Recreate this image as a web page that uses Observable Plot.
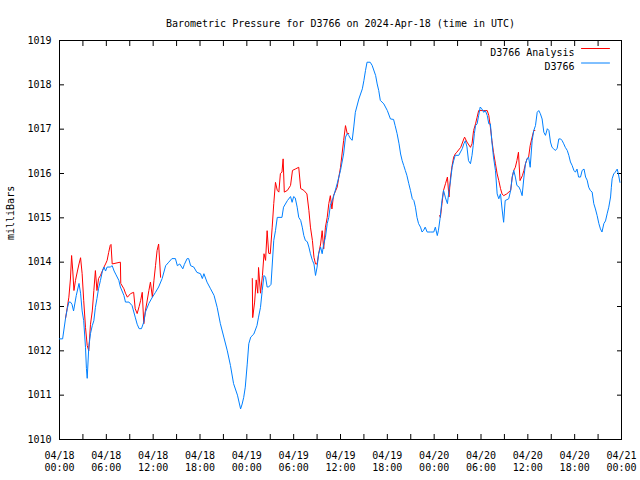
<!DOCTYPE html>
<html><head><meta charset="utf-8">
<script src="https://cdn.jsdelivr.net/npm/d3@7"></script>
<script src="https://cdn.jsdelivr.net/npm/@observablehq/plot@0.6"></script>
<style>body{margin:0;background:#fff} svg{display:block}</style>
</head><body><div id="chart"></div>
<script>
const title = "Barometric Pressure for D3766 on 2024-Apr-18 (time in UTC)";
const yLabel = "milliBars";
const seriesNames = ["D3766 Analysis", "D3766"];
const seriesColors = ["#ff0000", "#0080ff"];
const startTime = Date.UTC(2024, 3, 18, 0, 0);
const endTime = Date.UTC(2024, 3, 21, 0, 0);
const yTicks = [1010, 1011, 1012, 1013, 1014, 1015, 1016, 1017, 1018, 1019];

// Observed station pressure (hours after 2024-04-18 00:00 UTC)
const obsHours = [0.0,0.4,0.77,1.0,1.2,1.4,1.6,1.8,2.15,2.5,2.7,2.9,3.1,3.33,3.45,3.55,3.75,3.97,4.2,4.4,4.6,4.8,5.0,5.25,5.5,5.7,5.9,6.1,6.5,6.75,7.0,7.2,7.6,7.8,8.25,8.45,8.9,9.3,9.7,9.95,10.2,10.5,10.8,11.0,11.45,11.9,12.3,12.7,13.15,13.6,14.0,14.4,14.85,15.1,15.4,15.8,16.0,16.35,16.55,16.8,17.2,17.6,18.06,18.3,18.5,18.9,19.35,19.8,20.2,20.6,21.05,21.5,21.9,22.3,22.8,23.2,23.4,23.6,23.8,24.05,24.25,24.5,24.9,25.3,25.5,25.75,25.97,26.2,26.4,26.6,26.8,27.1,27.45,27.67,27.9,28.5,28.7,29.2,29.6,29.8,30.0,30.2,30.45,30.65,30.9,31.1,31.3,31.5,31.75,31.95,32.15,32.4,32.6,32.8,33.0,33.2,33.45,33.65,33.85,34.07,34.3,34.5,34.7,35.1,35.57,36.0,36.4,36.64,36.86,37.05,37.3,37.5,37.7,37.9,38.35,38.8,39.0,39.2,39.4,39.8,40.05,40.5,40.7,40.9,41.1,41.55,42.0,42.4,42.8,43.0,43.25,43.5,43.7,43.9,44.1,44.3,44.5,44.75,44.96,45.2,45.4,45.6,45.8,46.0,46.25,46.45,46.65,46.85,47.1,47.5,47.95,48.15,48.4,48.55,48.75,49.0,49.2,49.45,49.7,49.9,50.1,50.3,50.5,50.7,51.15,51.6,51.8,52.0,52.2,52.4,52.65,52.85,53.0,53.15,53.3,53.5,53.7,53.9,54.1,54.35,54.55,54.8,55.0,55.2,55.4,55.6,55.85,56.07,56.28,56.5,56.7,56.9,57.1,57.55,57.8,58.0,58.2,58.4,58.6,58.85,59.06,59.27,59.5,59.7,59.9,60.1,60.3,60.55,60.76,60.98,61.2,61.4,61.6,61.83,62.05,62.26,62.5,62.7,62.9,63.1,63.3,63.5,63.75,63.97,64.2,64.4,64.6,64.8,65.05,65.25,65.46,65.68,65.9,66.1,66.3,66.5,66.75,66.96,67.2,67.4,67.6,67.8,68.0,68.24,68.45,68.66,68.88,69.1,69.3,69.5,69.74,69.95,70.16,70.37,70.6,70.7,70.8,71.0,71.2,71.45,71.6,71.8];
const obsValues = [1012.27,1012.27,1012.73,1012.95,1013.10,1013.10,1013.05,1012.90,1013.25,1013.52,1013.30,1012.90,1012.68,1012.08,1011.60,1011.38,1012.08,1012.39,1012.57,1012.68,1012.98,1013.18,1013.40,1013.59,1013.80,1013.89,1013.80,1013.89,1013.89,1013.92,1013.80,1013.73,1013.59,1013.44,1013.25,1013.10,1013.10,1013.02,1012.76,1012.60,1012.50,1012.50,1012.65,1012.87,1013.07,1013.21,1013.32,1013.44,1013.63,1013.92,1014.00,1014.08,1014.08,1013.92,1013.96,1013.85,1013.95,1014.08,1014.08,1013.92,1013.89,1013.77,1013.74,1013.63,1013.74,1013.55,1013.40,1013.25,1012.98,1012.62,1012.31,1012.00,1011.67,1011.26,1011.00,1010.69,1010.80,1010.95,1011.18,1011.70,1012.16,1012.31,1012.38,1012.57,1012.76,1012.98,1013.36,1013.70,1013.66,1013.44,1013.44,1013.50,1014.49,1014.71,1015.01,1015.01,1015.24,1015.39,1015.48,1015.35,1015.48,1015.45,1015.24,1015.01,1014.94,1014.79,1014.60,1014.49,1014.46,1014.34,1014.19,1014.04,1013.96,1013.70,1013.89,1014.19,1014.34,1014.19,1014.41,1014.56,1014.87,1015.01,1015.28,1015.47,1015.77,1016.07,1016.44,1016.82,1016.90,1016.86,1016.78,1016.75,1017.05,1017.38,1017.68,1017.91,1018.10,1018.32,1018.51,1018.51,1018.44,1018.21,1018.02,1017.87,1017.65,1017.57,1017.42,1017.23,1017.22,1017.08,1016.90,1016.67,1016.44,1016.29,1016.18,1016.07,1015.96,1015.77,1015.62,1015.43,1015.39,1015.24,1015.01,1014.87,1014.79,1014.68,1014.72,1014.79,1014.68,1014.68,1014.68,1014.79,1014.60,1014.72,1014.98,1015.39,1015.62,1015.45,1015.32,1015.62,1015.84,1016.14,1016.29,1016.41,1016.41,1016.56,1016.67,1016.74,1016.60,1016.29,1016.22,1016.41,1016.63,1016.90,1017.08,1017.12,1017.31,1017.50,1017.46,1017.38,1017.42,1017.31,1017.12,1017.12,1016.71,1016.37,1016.07,1015.54,1015.43,1015.54,1015.20,1014.90,1015.39,1015.43,1015.62,1015.92,1016.07,1015.92,1015.73,1015.70,1015.62,1015.50,1015.92,1016.22,1016.33,1016.37,1016.14,1016.74,1016.97,1017.08,1017.38,1017.42,1017.35,1017.23,1016.93,1016.86,1017.01,1016.97,1016.71,1016.59,1016.56,1016.52,1016.56,1016.78,1016.78,1016.74,1016.67,1016.59,1016.52,1016.41,1016.26,1016.18,1016.07,1016.03,1016.10,1015.92,1015.92,1016.07,1016.10,1015.92,1015.85,1015.69,1015.62,1015.58,1015.32,1015.20,1015.05,1014.87,1014.75,1014.68,1014.87,1014.93,1015.09,1015.24,1015.47,1015.69,1015.88,1015.99,1016.03,1016.10,1015.99,1015.80];

// Analysis pressure (null = gap between analysis periods)
const anaHours = [0.77,1.0,1.2,1.4,1.55,1.7,1.85,2.05,2.3,2.5,2.7,2.9,3.1,3.33,3.55,3.75,3.97,4.2,4.4,4.6,4.8,5.0,5.25,5.7,5.9,6.1,6.3,6.5,6.6,6.75,7.8,7.85,8.25,8.45,8.7,9.1,9.5,9.7,9.95,10.2,10.4,10.6,10.8,11.0,11.2,11.45,11.65,11.9,12.1,12.3,12.5,12.7,12.95,
  18,
  24.7,24.75,25.0,25.2,25.4,25.5,25.75,26.0,26.2,26.4,26.6,26.8,27.0,27.25,27.45,27.67,27.9,28.1,28.3,28.5,28.65,28.8,29.2,29.6,29.85,30.2,30.65,30.9,31.3,31.7,31.95,32.15,32.4,32.6,32.8,33.0,33.2,33.45,33.65,33.85,34.07,34.3,34.5,34.7,34.9,35.1,35.57,36.0,36.2,36.4,36.64,36.86,37.05,
  43,
  48.7,48.8,49.0,49.2,49.45,49.7,49.9,50.1,50.3,50.5,50.7,50.9,51.4,51.8,51.9,52.2,52.65,52.85,53.05,53.3,53.5,53.7,54.35,54.8,55.0,55.2,55.4,55.6,55.85,56.07,56.28,56.5,56.7,56.9,57.3,57.8,58.0,58.2,58.4,58.6,58.8,59.0,59.3,59.5,59.7,59.9,60.1,60.3,60.55,60.76,60.9];
const anaValues = [1012.73,1012.98,1013.21,1013.62,1014.15,1013.80,1013.36,1013.59,1013.80,1013.96,1014.10,1013.74,1013.14,1012.53,1012.12,1012.00,1012.60,1012.90,1013.36,1013.81,1013.36,1013.63,1013.70,1013.89,1013.96,1014.04,1014.22,1014.38,1014.40,1013.96,1014.00,1013.52,1013.40,1013.30,1013.21,1013.29,1013.32,1012.95,1012.84,1013.00,1013.14,1013.32,1012.61,1012.90,1013.10,1013.36,1013.55,1013.21,1013.59,1013.92,1014.26,1014.41,1013.66,
  null,
  1013.63,1012.75,1013.10,1013.60,1013.30,1013.88,1013.30,1013.70,1014.19,1014.04,1014.71,1014.20,1014.19,1014.79,1015.32,1015.80,1015.62,1015.58,1016.00,1016.03,1016.33,1015.58,1015.62,1015.73,1016.07,1016.10,1016.14,1015.66,1015.62,1015.54,1015.17,1014.79,1014.49,1014.11,1013.96,1013.96,1014.19,1014.41,1014.71,1014.30,1014.79,1015.01,1015.32,1015.50,1015.20,1015.50,1015.69,1016.14,1016.44,1016.74,1017.08,1016.90,1016.90,
  null,
  1015.05,1015.01,1015.32,1015.62,1015.77,1015.92,1015.47,1015.92,1016.18,1016.37,1016.44,1016.48,1016.59,1016.78,1016.82,1016.71,1016.59,1016.67,1016.97,1017.12,1017.27,1017.42,1017.42,1017.42,1017.31,1017.05,1016.74,1016.48,1016.22,1015.99,1015.84,1015.66,1015.54,1015.50,1015.54,1015.62,1015.92,1016.07,1016.14,1016.29,1016.48,1015.84,1015.95,1016.07,1016.22,1016.33,1016.37,1016.63,1016.82,1016.97,1016.97];

const toDate = h => new Date(startTime + h * 3600e3);
const obs = obsHours.map((h, i) => ({t: toDate(h), p: obsValues[i]}));
const ana = anaHours.map((h, i) => ({t: toDate(h), p: anaValues[i] == null ? NaN : anaValues[i]}));

const ticks3h = d3.utcHour.every(3).range(new Date(startTime), new Date(endTime + 1));
const ticks6h = d3.utcHour.every(6).range(new Date(startTime), new Date(endTime + 1));

const lineShape = {draw(ctx, l) { ctx.moveTo(0, 0); ctx.lineTo(0, -l); }};
const font = "DejaVu Sans Mono";
const legend = seriesNames.map((name, i) => ({name, color: seriesColors[i], row: i}));

const chart = Plot.plot({
  width: 640, height: 480,
  marginTop: 40, marginRight: 19, marginBottom: 41, marginLeft: 59,
  style: {fontFamily: font, fontSize: "10px", background: "#fff", color: "#000"},
  x: {type: "utc", domain: [new Date(startTime), new Date(endTime)]},
  y: {domain: [1010, 1019]},
  marks: [
    Plot.frame({stroke: "#000"}),
    Plot.axisX({ticks: ticks3h, anchor: "bottom", tickSize: -5, fill: "none", label: null}),
    Plot.axisX({ticks: ticks3h, anchor: "top", tickSize: -5, fill: "none", label: null}),
    Plot.axisX({ticks: ticks6h, anchor: "bottom", tickSize: 0, tickPadding: 11, lineHeight: 1.2,
      tickFormat: d3.utcFormat("%m/%d\n%H:%M"), label: null}),
    Plot.axisY({ticks: yTicks, anchor: "left", tickSize: -5, fill: "none", label: null}),
    Plot.axisY({ticks: yTicks, anchor: "right", tickSize: -5, fill: "none", label: null}),
    Plot.axisY({ticks: yTicks, anchor: "left", tickSize: 0, tickPadding: 8, tickFormat: d => String(d), label: null}),
    Plot.line(ana, {x: "t", y: "p", stroke: seriesColors[0], strokeWidth: 1}),
    Plot.line(obs, {x: "t", y: "p", stroke: seriesColors[1], strokeWidth: 1}),
    Plot.text([title], {text: d => d, frameAnchor: "top", dy: -21, fontSize: 10}),
    Plot.text([yLabel], {text: d => d, frameAnchor: "left", dx: -49, rotate: -90, fontSize: 10}),
    // legend (top-right, inside the frame)
    ...legend.map(d => Plot.text([d], {text: "name", frameAnchor: "top-right", textAnchor: "end",
      dx: -47, dy: 8 + 14.5 * d.row, fontSize: 10})),
    ...legend.map(d => Plot.vector([d], {frameAnchor: "top-right", dx: -40, dy: 8 + 14.5 * d.row,
      length: 28, rotate: 90, anchor: "start", shape: lineShape, stroke: d.color, strokeWidth: 1})),
  ]
});
document.getElementById("chart").appendChild(chart);
</script></body></html>
